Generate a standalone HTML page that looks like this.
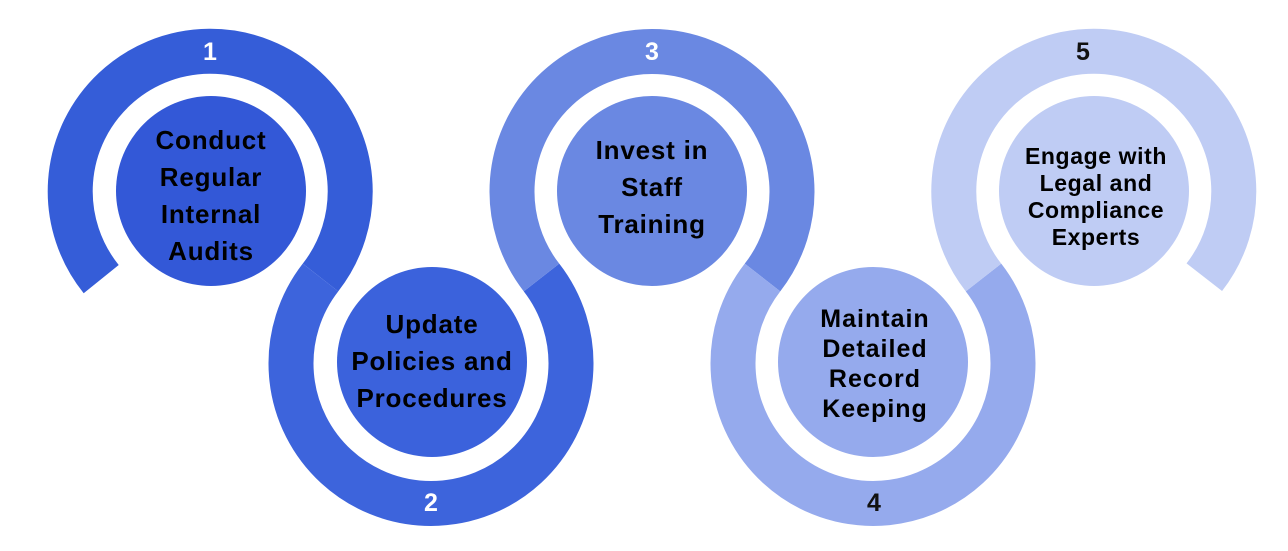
<!DOCTYPE html>
<html><head><meta charset="utf-8"><style>
html,body{margin:0;padding:0;background:#fff;width:1288px;height:551px;overflow:hidden}
text{font-family:"Liberation Sans",sans-serif;font-weight:bold;text-anchor:middle}
</style></head><body>
<svg width="1288" height="551" viewBox="0 0 1288 551" xmlns="http://www.w3.org/2000/svg">
<g fill="none" stroke-width="45" stroke-linecap="butt">
<path d="M101.2 279.1 A140 140 0 1 1 320.5 277.5" stroke="#355dd8"/>
<path d="M541.5 277.5 A140 140 0 1 1 320.5 277.5" stroke="#3d64dc"/>
<path d="M541.5 277.5 A140 140 0 1 1 762.5 277.5" stroke="#6a88e2"/>
<path d="M983.5 277.5 A140 140 0 1 1 762.5 277.5" stroke="#95aaed"/>
<path d="M983.5 277.5 A140 140 0 1 1 1204.3 277.2" stroke="#bfccf4"/>
</g>
<circle cx="211" cy="191" r="95" fill="#3358d7"/>
<circle cx="432" cy="362" r="95" fill="#3b62dc"/>
<circle cx="652" cy="191" r="95" fill="#6a88e2"/>
<circle cx="873" cy="362" r="95" fill="#95aaed"/>
<circle cx="1094" cy="191" r="95" fill="#bfccf4"/>
<g font-size="25">
<text x="210" y="60" fill="#fff">1</text>
<text x="431" y="511" fill="#fff">2</text>
<text x="652" y="60" fill="#fff">3</text>
<text x="874" y="511" fill="#111">4</text>
<text x="1083" y="60" fill="#111">5</text>
</g>
<g font-size="26" fill="#000" letter-spacing="0.8">
<text x="211" y="149">Conduct</text>
<text x="211" y="186">Regular</text>
<text x="211" y="223">Internal</text>
<text x="211" y="260">Audits</text>
<text x="432" y="333">Update</text>
<text x="432" y="370">Policies and</text>
<text x="432" y="407">Procedures</text>
<text x="652" y="159">Invest in</text>
<text x="652" y="196">Staff</text>
<text x="652" y="233">Training</text>
</g>
<g font-size="25" fill="#000" letter-spacing="1">
<text x="875" y="327">Maintain</text>
<text x="875" y="357">Detailed</text>
<text x="875" y="387">Record</text>
<text x="875" y="417">Keeping</text>
</g>
<g font-size="23" fill="#000" letter-spacing="0.6">
<text x="1096" y="164">Engage with</text>
<text x="1096" y="191">Legal and</text>
<text x="1096" y="218">Compliance</text>
<text x="1096" y="245">Experts</text>
</g>
</svg>
</body></html>
